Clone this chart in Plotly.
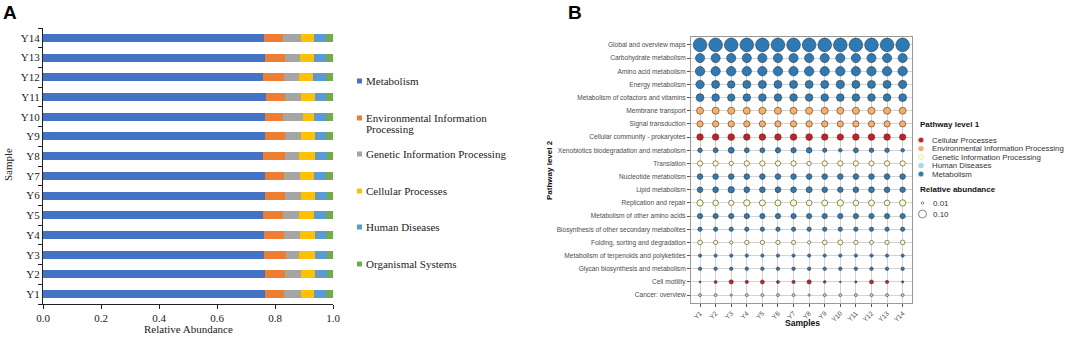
import plotly.graph_objects as go

W, H = 1072, 338


def px(x):
    return x / W


def py(y):
    return 1 - y / H


# ---------------- Panel A data ----------------
samples = ["Y1", "Y2", "Y3", "Y4", "Y5", "Y6", "Y7", "Y8", "Y9", "Y10", "Y11", "Y12", "Y13", "Y14"]
metabolism = [0.766, 0.764, 0.761, 0.761, 0.759, 0.767, 0.764, 0.759, 0.767, 0.764, 0.768, 0.759, 0.764, 0.761]
environmental = [0.064, 0.069, 0.076, 0.069, 0.069, 0.067, 0.066, 0.075, 0.066, 0.064, 0.068, 0.071, 0.069, 0.067]
genetic = [0.061, 0.057, 0.045, 0.057, 0.056, 0.055, 0.057, 0.048, 0.057, 0.067, 0.055, 0.052, 0.054, 0.063]
cellular = [0.043, 0.048, 0.056, 0.050, 0.050, 0.049, 0.047, 0.056, 0.047, 0.041, 0.046, 0.050, 0.047, 0.043]
human = [0.041, 0.041, 0.041, 0.040, 0.043, 0.040, 0.043, 0.041, 0.040, 0.039, 0.040, 0.045, 0.043, 0.041]
organismal = [0.025, 0.021, 0.021, 0.023, 0.023, 0.022, 0.023, 0.021, 0.023, 0.025, 0.023, 0.023, 0.023, 0.025]

level1_a = ["Metabolism", "Environmental Information Processing", "Genetic Information Processing",
            "Cellular Processes", "Human Diseases", "Organismal Systems"]
series_a = [metabolism, environmental, genetic, cellular, human, organismal]
colors_a = ["#4472C4", "#ED7D31", "#A5A5A5", "#FFC000", "#5B9BD5", "#70AD47"]

# ---------------- Panel B data ----------------
pathways = [
    "Global and overview maps", "Carbohydrate metabolism", "Amino acid metabolism", "Energy metabolism",
    "Metabolism of cofactors and vitamins", "Membrane transport", "Signal transduction",
    "Cellular community - prokaryotes", "Xenobiotics biodegradation and metabolism", "Translation",
    "Nucleotide metabolism", "Lipid metabolism", "Replication and repair", "Metabolism of other amino acids",
    "Biosynthesis of other secondary metabolites", "Folding, sorting and degradation",
    "Metabolism of terpenoids and polyketides", "Glycan biosynthesis and metabolism", "Cell motility",
    "Cancer: overview",
]
pathway_level1 = [
    "Metabolism", "Metabolism", "Metabolism", "Metabolism", "Metabolism",
    "Environmental Information Processing", "Environmental Information Processing",
    "Cellular Processes", "Metabolism", "Genetic Information Processing",
    "Metabolism", "Metabolism", "Genetic Information Processing", "Metabolism",
    "Metabolism", "Genetic Information Processing", "Metabolism", "Metabolism",
    "Cellular Processes", "Human Diseases",
]
abundance = [
    [0.29, 0.29, 0.29, 0.29, 0.29, 0.29, 0.29, 0.29, 0.29, 0.29, 0.29, 0.29, 0.29, 0.29],
    [0.130, 0.130, 0.132, 0.130, 0.130, 0.130, 0.130, 0.132, 0.130, 0.130, 0.130, 0.130, 0.130, 0.130],
    [0.138, 0.136, 0.140, 0.136, 0.136, 0.136, 0.136, 0.138, 0.136, 0.136, 0.136, 0.136, 0.136, 0.138],
    [0.110, 0.100, 0.088, 0.100, 0.100, 0.098, 0.100, 0.098, 0.100, 0.105, 0.100, 0.098, 0.100, 0.108],
    [0.095, 0.090, 0.085, 0.090, 0.090, 0.088, 0.090, 0.088, 0.090, 0.092, 0.090, 0.090, 0.090, 0.095],
    [0.078, 0.078, 0.080, 0.078, 0.078, 0.078, 0.078, 0.080, 0.078, 0.076, 0.078, 0.080, 0.078, 0.076],
    [0.062, 0.062, 0.064, 0.062, 0.062, 0.062, 0.062, 0.064, 0.062, 0.060, 0.062, 0.062, 0.062, 0.060],
    [0.066, 0.066, 0.070, 0.066, 0.066, 0.066, 0.066, 0.070, 0.066, 0.064, 0.066, 0.068, 0.066, 0.064],
    [0.034, 0.039, 0.056, 0.039, 0.039, 0.044, 0.044, 0.050, 0.029, 0.021, 0.039, 0.034, 0.034, 0.021],
    [0.044, 0.044, 0.029, 0.044, 0.044, 0.044, 0.044, 0.029, 0.044, 0.044, 0.044, 0.040, 0.044, 0.044],
    [0.050, 0.050, 0.050, 0.050, 0.050, 0.050, 0.050, 0.050, 0.050, 0.050, 0.050, 0.050, 0.050, 0.050],
    [0.050, 0.052, 0.063, 0.052, 0.052, 0.052, 0.052, 0.056, 0.050, 0.048, 0.050, 0.052, 0.050, 0.048],
    [0.063, 0.050, 0.044, 0.063, 0.056, 0.056, 0.063, 0.050, 0.056, 0.063, 0.050, 0.056, 0.050, 0.063],
    [0.044, 0.044, 0.044, 0.044, 0.044, 0.044, 0.044, 0.044, 0.044, 0.044, 0.044, 0.044, 0.044, 0.044],
    [0.029, 0.029, 0.029, 0.029, 0.029, 0.029, 0.029, 0.029, 0.029, 0.029, 0.029, 0.029, 0.029, 0.029],
    [0.034, 0.029, 0.017, 0.029, 0.029, 0.029, 0.029, 0.017, 0.034, 0.039, 0.029, 0.025, 0.029, 0.034],
    [0.017, 0.017, 0.017, 0.017, 0.017, 0.017, 0.017, 0.017, 0.017, 0.017, 0.017, 0.017, 0.017, 0.017],
    [0.019, 0.019, 0.019, 0.019, 0.019, 0.019, 0.019, 0.019, 0.019, 0.019, 0.019, 0.019, 0.019, 0.019],
    [0.006, 0.014, 0.029, 0.017, 0.025, 0.014, 0.017, 0.029, 0.011, 0.0045, 0.008, 0.025, 0.017, 0.008],
    [0.014, 0.014, 0.0085, 0.014, 0.014, 0.014, 0.014, 0.0085, 0.014, 0.014, 0.014, 0.014, 0.014, 0.014],
]
level1_b = ["Cellular Processes", "Environmental Information Processing", "Genetic Information Processing",
            "Human Diseases", "Metabolism"]
colors_b = ["#D7191C", "#FDAE61", "#FFFFBF", "#ABD9E9", "#2C7BB6"]
size_legend_values = [0.01, 0.10]

SIZEREF = 2 * 0.10 / 8.0 ** 2  # 0.10 -> 8 px diameter

fig = go.Figure()

# ---- Panel A stacked bars ----
for name, vals, col in zip(level1_a, series_a, colors_a):
    fig.add_trace(go.Bar(
        x=vals, y=samples, orientation="h", name=name,
        marker=dict(color=col, line=dict(width=0)),
        xaxis="x", yaxis="y", showlegend=False,
    ))

# ---- Panel B bubbles ----
for cat, col in zip(level1_b, colors_b):
    xs, ys, ss = [], [], []
    for pw, l1, row in zip(pathways, pathway_level1, abundance):
        if l1 != cat:
            continue
        for s, v in zip(samples, row):
            xs.append(s)
            ys.append(pw)
            ss.append(v)
    fig.add_trace(go.Scatter(
        x=xs, y=ys, mode="markers", name=cat,
        marker=dict(size=ss, sizemode="area", sizeref=SIZEREF, sizemin=0,
                    color=col, line=dict(color="#3a3a3a", width=0.6), opacity=1),
        xaxis="x2", yaxis="y2", showlegend=False, cliponaxis=False,
    ))

serif = "Liberation Serif"
sans = "Liberation Sans"

layout = dict(
    width=W, height=H,
    margin=dict(l=0, r=0, t=0, b=0, autoexpand=False),
    paper_bgcolor="white", plot_bgcolor="white",
    barmode="stack", bargap=0.6,
    showlegend=False,
    xaxis=dict(
        domain=[px(43), px(333)], anchor="y", range=[0, 1], automargin=False,
        tickvals=[0, 0.2, 0.4, 0.6, 0.8, 1.0], ticktext=["0.0", "0.2", "0.4", "0.6", "0.8", "1.0"],
        showline=True, linecolor="#222", linewidth=1, ticks="outside", ticklen=4, tickcolor="#222",
        showgrid=False, zeroline=False, tickfont=dict(family=serif, size=11, color="#1a1a1a"),
    ),
    yaxis=dict(
        domain=[py(304), py(28)], anchor="x", type="category", automargin=False,
        categoryorder="array", categoryarray=samples, range=[-0.5, 13.5],
        showline=True, linecolor="#222", linewidth=1, ticks="outside", ticklen=4, tickcolor="#222",
        tickson="boundaries", showgrid=False, zeroline=False,
        tickfont=dict(family=serif, size=11, color="#1a1a1a"),
    ),
    xaxis2=dict(
        domain=[px(691), px(912)], anchor="y2", type="category", automargin=False,
        categoryorder="array", categoryarray=samples, range=[-0.58, 13.6],
        showline=True, mirror=True, linecolor="#9a9a9a", linewidth=1,
        ticks="outside", ticklen=3, tickcolor="#555", tickangle=-45,
        showgrid=True, gridcolor="#d3d3d3", gridwidth=1.3, zeroline=False,
        tickfont=dict(family=sans, size=6.6, color="#4d4d4d"),
    ),
    yaxis2=dict(
        domain=[py(303), py(37)], anchor="x2", type="category", automargin=False,
        categoryorder="array", categoryarray=list(reversed(pathways)), range=[-0.6, 19.6],
        showline=True, mirror=True, linecolor="#9a9a9a", linewidth=1,
        ticks="outside", ticklen=3, tickcolor="#555",
        showgrid=True, gridcolor="#d3d3d3", gridwidth=1.3, zeroline=False,
        tickfont=dict(family=sans, size=6.6, color="#4d4d4d"),
    ),
)

annotations = []
shapes = []


def ann(x, y, text, size, family, color="#222", bold=False, xanchor="left", angle=0):
    t = f"<b>{text}</b>" if bold else text
    annotations.append(dict(
        x=px(x), y=py(y), xref="paper", yref="paper", text=t, showarrow=False,
        xanchor=xanchor, yanchor="middle", textangle=angle,
        font=dict(family=family, size=size, color=color),
    ))


# Panel labels
ann(10, 13, "A", 19, "Liberation Sans", color="#000", bold=True, xanchor="center")
ann(575, 13, "B", 19, "Liberation Sans", color="#000", bold=True, xanchor="center")

# Panel A axis titles
ann(188, 329, "Relative Abundance", 11, serif, xanchor="center")
ann(8, 165, "Sample", 11, serif, xanchor="center", angle=-90)

# Panel A legend
legend_a_y = [81, 118, 154, 191, 227, 264]
for name, col, yy in zip(level1_a, colors_a, legend_a_y):
    shapes.append(dict(type="rect", xref="paper", yref="paper",
                       x0=px(357), x1=px(362), y0=py(yy + 2.5), y1=py(yy - 2.5),
                       fillcolor=col, line=dict(width=0)))
    if name == "Environmental Information Processing":
        ann(364, yy, "Environmental Information", 11, serif)
        ann(364, yy + 11, "Processing", 11, serif)
    else:
        ann(364, yy, name, 11, serif)

# Panel B axis titles
ann(802, 323, "Samples", 8.5, sans, color="#111", bold=True, xanchor="center")
ann(549, 170, "Pathway level 2", 8, sans, color="#111", bold=True, xanchor="center", angle=-90)

# Panel B legend
ann(918, 124, "Pathway level 1", 8, sans, color="#111", bold=True)
legend_b_y = [140, 148.5, 157, 165.5, 174]
for name, col, yy in zip(level1_b, colors_b, legend_b_y):
    shapes.append(dict(type="circle", xref="paper", yref="paper",
                       xsizemode="pixel", ysizemode="pixel",
                       xanchor=px(921), yanchor=py(yy), x0=-2.6, x1=2.6, y0=-2.6, y1=2.6,
                       fillcolor=col, line=dict(color="#c8c8c8", width=0.4)))
    ann(930, yy, name, 7.8, sans, color="#333")

ann(918, 189, "Relative abundance", 8, sans, color="#111", bold=True)
size_y = [203, 214]
for v, yy in zip(size_legend_values, size_y):
    r = (2 * v / SIZEREF) ** 0.5 / 2
    shapes.append(dict(type="circle", xref="paper", yref="paper",
                       xsizemode="pixel", ysizemode="pixel",
                       xanchor=px(922.5), yanchor=py(yy), x0=-r, x1=r, y0=-r, y1=r,
                       fillcolor="white", line=dict(color="#555", width=0.7)))
    ann(931, yy, f"{v:.2f}", 8, sans, color="#333")

layout["annotations"] = annotations
layout["shapes"] = shapes
fig.update_layout(**layout)

fig.write_html(
    "out.html",
    config={"displayModeBar": False},
    post_script="document.body.style.margin='0';document.body.style.padding='0';",
)
